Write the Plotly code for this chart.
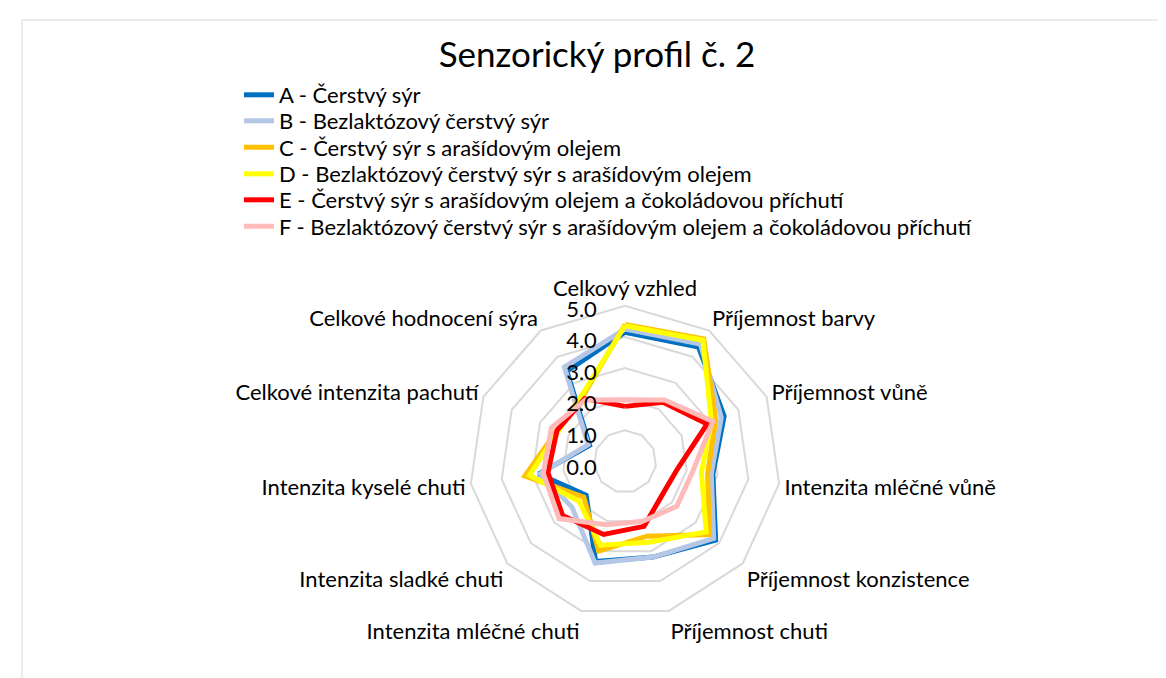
"""Senzorický profil č. 2 – radar chart of cheese sensory scores."""

import plotly.graph_objects as go

W, H = 1166, 678

categories = [
    "Celkový vzhled",
    "Příjemnost barvy",
    "Příjemnost vůně",
    "Intenzita mléčné vůně",
    "Příjemnost konzistence",
    "Příjemnost chuti",
    "Intenzita mléčné chuti",
    "Intenzita sladké chuti",
    "Intenzita kyselé chuti",
    "Celkové intenzita pachutí",
    "Celkové hodnocení sýra",
]

series_names = [
    "A - Čerstvý sýr",
    "B - Bezlaktózový čerstvý sýr",
    "C - Čerstvý sýr s arašídovým olejem",
    "D - Bezlaktózový čerstvý sýr s arašídovým olejem",
    "E - Čerstvý sýr s arašídovým olejem a čokoládovou příchutí",
    "F - Bezlaktózový čerstvý sýr s arašídovým olejem a čokoládovou příchutí",
]

a_values = [4.15, 4.37, 3.5, 2.85, 3.85, 3.2, 3.35, 1.65, 2.8, 1.25, 3.45]
b_values = [4.25, 4.48, 3.4, 2.8, 3.77, 3.2, 3.4, 2.25, 2.75, 1.3, 3.6]
c_values = [4.4, 4.68, 3.2, 2.68, 3.58, 2.5, 3.0, 1.75, 3.25, 2.4, 2.5]
d_values = [4.36, 4.63, 3.05, 2.48, 3.45, 2.7, 2.8, 1.95, 3.1, 2.35, 2.55]
e_values = [1.77, 2.26, 2.9, 1.7, 1.6, 2.17, 2.44, 2.65, 2.5, 2.4, 2.4]
f_values = [1.98, 2.35, 3.1, 2.2, 2.2, 2.0, 2.12, 2.8, 2.65, 2.6, 2.35]

radial_ticks = [0, 1, 2, 3, 4, 5]

colors = ["#0070C0", "#B4C7E7", "#FFC000", "#FFFF00", "#FF0000", "#FFBABA"]
FONT = "Lato"

# one legend per series so the rows can sit at the reference spacing
legend_rows = [87, 113, 139.5, 166, 192, 218.5]
legend_ids = ["legend", "legend2", "legend3", "legend4", "legend5", "legend6"]

fig = go.Figure()
for name, values, color, lid in zip(
    series_names,
    [a_values, b_values, c_values, d_values, e_values, f_values],
    colors,
    legend_ids,
):
    fig.add_trace(
        go.Scatterpolar(
            r=values + [values[0]],
            theta=categories + [categories[0]],
            mode="lines",
            name=name,
            legend=lid,
            showlegend=True,
            line=dict(color=color, width=5),
        )
    )

# radial tick labels, Excel style: left of the vertical axis, over the lines.
# They live on a transparent circular overlay (polar2) with the same centre and
# scale, because the polygon subplot hides a point sitting exactly at r = 0.
fig.add_trace(
    go.Scatterpolar(
        r=radial_ticks,
        theta=[categories[0]] * len(radial_ticks),
        mode="text",
        text=[f"{v:.1f}" + "\u00a0" * 5 for v in radial_ticks],
        textposition="middle left",
        textfont=dict(family=FONT, size=22, color="black"),
        cliponaxis=False,
        showlegend=False,
        hoverinfo="skip",
        subplot="polar2",
    )
)

legends = {}
for lid, row in zip(legend_ids, legend_rows):
    legends[lid] = dict(
        x=231 / W,
        y=1 - row / H,
        xanchor="left",
        yanchor="middle",
        font=dict(family=FONT, size=22, color="black"),
        itemwidth=30,
        bgcolor="rgba(0,0,0,0)",
    )

# domain chosen so the 11-gon ends up centred at (617, 461) with a 158 px radius
cx, cy, rad = 617, 453.5, 155.7
# the circular overlay maps straight onto its domain
lx, ly, lrad = 617, 461, 158

fig.update_layout(
    width=W,
    height=H,
    margin=dict(l=0, r=0, t=0, b=0),
    paper_bgcolor="white",
    showlegend=True,
    font=dict(family=FONT, size=22, color="black"),
    title=dict(
        text="Senzorický profil č. 2",
        x=589 / W,
        y=1 - 47 / H,
        xanchor="center",
        yanchor="middle",
        font=dict(family=FONT, size=35, color="black"),
    ),
    polar=dict(
        domain=dict(
            x=[(cx - rad) / W, (cx + rad) / W],
            y=[1 - (cy + rad) / H, 1 - (cy - rad) / H],
        ),
        bgcolor="white",
        gridshape="linear",
        angularaxis=dict(
            direction="clockwise",
            rotation=90,
            showgrid=False,
            showline=True,
            linecolor="#D9D9D9",
            linewidth=2,
            ticks="",
            tickfont=dict(family=FONT, size=22, color="black"),
        ),
        radialaxis=dict(
            range=[0, 5],
            tickvals=radial_ticks,
            showticklabels=False,
            angle=90,
            showline=False,
            ticks="",
            gridcolor="#D9D9D9",
            gridwidth=2,
        ),
    ),
    polar2=dict(
        domain=dict(
            x=[(lx - lrad) / W, (lx + lrad) / W],
            y=[1 - (ly + lrad) / H, 1 - (ly - lrad) / H],
        ),
        bgcolor="rgba(0,0,0,0)",
        angularaxis=dict(
            direction="clockwise",
            rotation=90,
            visible=False,
            showgrid=False,
            showline=False,
            showticklabels=False,
            ticks="",
        ),
        radialaxis=dict(
            range=[0, 5],
            visible=False,
            showgrid=False,
            showline=False,
            showticklabels=False,
            ticks="",
        ),
    ),
    shapes=[
        dict(
            type="rect",
            xref="paper",
            yref="paper",
            x0=14 / W,
            x1=1.01,
            y0=-0.01,
            y1=1 - 12 / H,
            line=dict(color="#D9D9D9", width=1),
        ),
    ],
    **legends,
)

fig.write_html("out.html")
